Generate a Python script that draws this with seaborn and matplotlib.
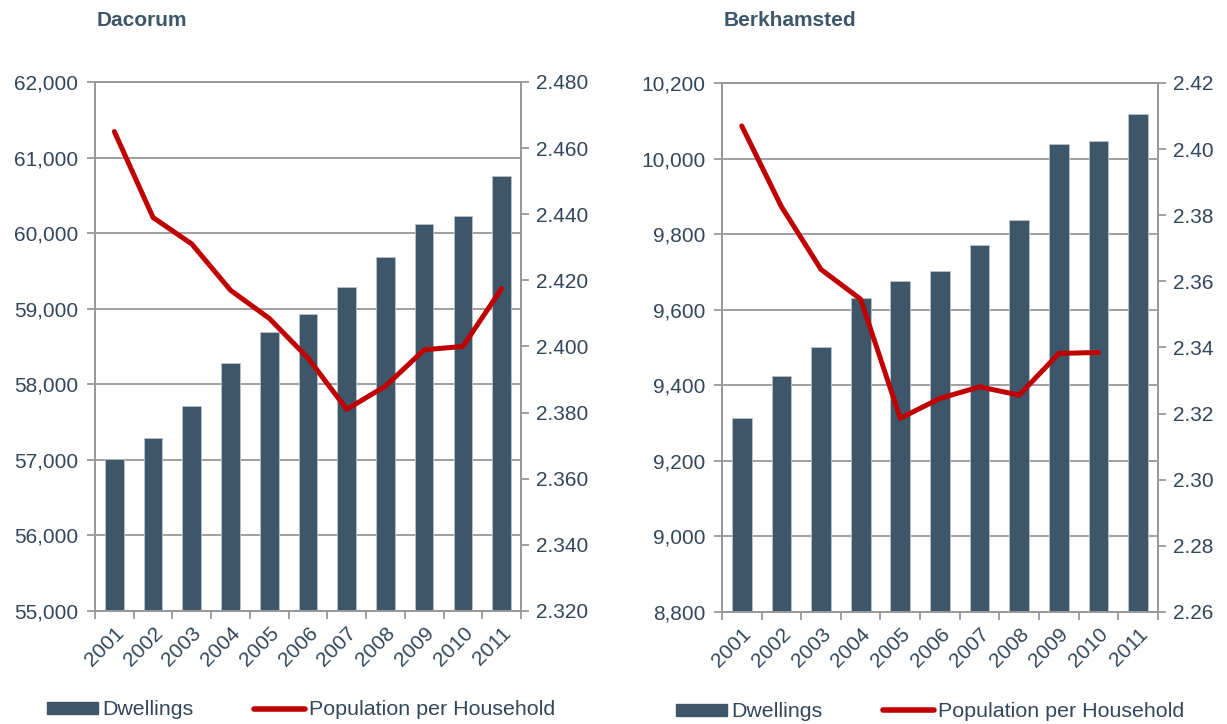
import numpy as np
import pandas as pd
import matplotlib
matplotlib.use("Agg")
import matplotlib.pyplot as plt
import matplotlib.ticker as mticker
from matplotlib.patches import Patch
from matplotlib.lines import Line2D
import seaborn as sns

# data
years = ["2001", "2002", "2003", "2004", "2005", "2006",
         "2007", "2008", "2009", "2010", "2011"]

dacorum_dwellings = [57010, 57285, 57715, 58275, 58685, 58925,
                     59285, 59690, 60125, 60230, 60760]
dacorum_pph = [2.465, 2.439, 2.431, 2.417, 2.4085, 2.3965,
               2.381, 2.388, 2.399, 2.400, 2.4175]

berk_dwellings = [9313, 9425, 9502, 9630, 9677, 9702,
                  9771, 9837, 10038, 10046, 10117]
berk_pph = [2.407, 2.3826, 2.3636, 2.3546, 2.3186, 2.3246,
            2.3281, 2.3256, 2.3382, 2.3385, np.nan]

BAR = "#3d5669"
RED = "#c00000"
TXT = "#33465a"
GRID = "#999999"
FS = 15

sns.set_style("white")
plt.rcParams["font.family"] = ["Liberation Sans", "DejaVu Sans"]
plt.rcParams["text.color"] = TXT
plt.rcParams["xtick.color"] = TXT
plt.rcParams["ytick.color"] = TXT


def panel(fig, rect, title, dwell, pph, ylim, yticks, y2lim, y2ticks, y2fmt, bar_w):
    df = pd.DataFrame({"year": years, "pos": np.arange(len(years)),
                       "dwellings": dwell, "pph": pph})
    ax = fig.add_axes(rect)
    sns.barplot(data=df, x="year", y="dwellings", color=BAR, width=bar_w,
                saturation=1, edgecolor="#b8c2cc", linewidth=0.6, ax=ax, zorder=2)
    ax.set_ylim(*ylim)
    ax.set_yticks(yticks)
    ax.yaxis.set_major_formatter(mticker.StrMethodFormatter("{x:,.0f}"))
    ax.set_xlim(-0.5, len(years) - 0.5)
    ax.grid(axis="y", color=GRID, lw=1.3, zorder=0)
    ax.set_axisbelow(True)
    ax.set_xlabel("")
    ax.set_ylabel("")

    # ticks on category boundaries, labels at centres
    ax.set_xticks(np.arange(len(years) + 1) - 0.5)
    ax.set_xticklabels([])
    ax.set_xticks(np.arange(len(years)), minor=True)
    ax.set_xticklabels(years, minor=True, rotation=45, ha="right",
                       rotation_mode="anchor", fontsize=FS)
    ax.tick_params(axis="x", which="major", length=6, width=1.3, color=GRID,
                   direction="out", bottom=True)
    ax.tick_params(axis="x", which="minor", length=0, pad=9)
    ax.tick_params(axis="y", length=6, width=1.3, color=GRID, direction="out",
                   left=True, labelsize=FS, pad=6)
    for s in ["left", "bottom", "right", "top"]:
        ax.spines[s].set_color(GRID)
        ax.spines[s].set_linewidth(1.3)

    ax2 = ax.twinx()
    sns.lineplot(data=df, x="pos", y="pph", color=RED, lw=3.6, ax=ax2,
                 solid_capstyle="round", zorder=3)
    ax2.set_ylim(*y2lim)
    ax2.set_yticks(y2ticks)
    ax2.yaxis.set_major_formatter(mticker.StrMethodFormatter(y2fmt))
    ax2.set_ylabel("")
    ax2.tick_params(axis="y", length=6, width=1.3, color=GRID, direction="out",
                    right=True, labelsize=FS, pad=5)
    for s in ["left", "bottom", "right", "top"]:
        ax2.spines[s].set_color(GRID)
        ax2.spines[s].set_linewidth(1.3)
    ax2.set_xlim(-0.5, len(years) - 0.5)

    fig.text(rect[0] + 0.001, 0.971, title, fontsize=FS, fontweight="bold",
             color=BAR, ha="left", va="center")
    return ax, ax2


fig = plt.figure(figsize=(12.27, 7.24), dpi=100)

panel(fig, [0.0774, 0.1561, 0.3472, 0.7307], "Dacorum",
      dacorum_dwellings, dacorum_pph,
      (55000, 62000), np.arange(55000, 62001, 1000),
      (2.32, 2.48), np.arange(2.32, 2.4801, 0.02), "{x:.3f}", 0.48)

panel(fig, [0.5884, 0.1547, 0.3553, 0.7307], "Berkhamsted",
      berk_dwellings, berk_pph,
      (8800, 10200), np.arange(8800, 10201, 200),
      (2.26, 2.42), np.arange(2.26, 2.4201, 0.02), "{x:.2f}", 0.5)

handles = [Patch(facecolor=BAR, edgecolor=BAR),
           Line2D([0], [0], color=RED, lw=4, solid_capstyle="round")]
labels = ["Dwellings", "Population per Household"]
for x0, y0 in [(0.0383, 0.0195), (0.551, 0.0170)]:
    fig.legend(handles, labels, loc="center left", bbox_to_anchor=(x0, y0),
               ncol=2, frameon=False, fontsize=15.4, handlelength=2.4,
               handleheight=0.5, handletextpad=0.2, columnspacing=2.8,
               labelcolor=TXT, borderpad=0, borderaxespad=0)

fig.savefig("out.png", dpi=100)
